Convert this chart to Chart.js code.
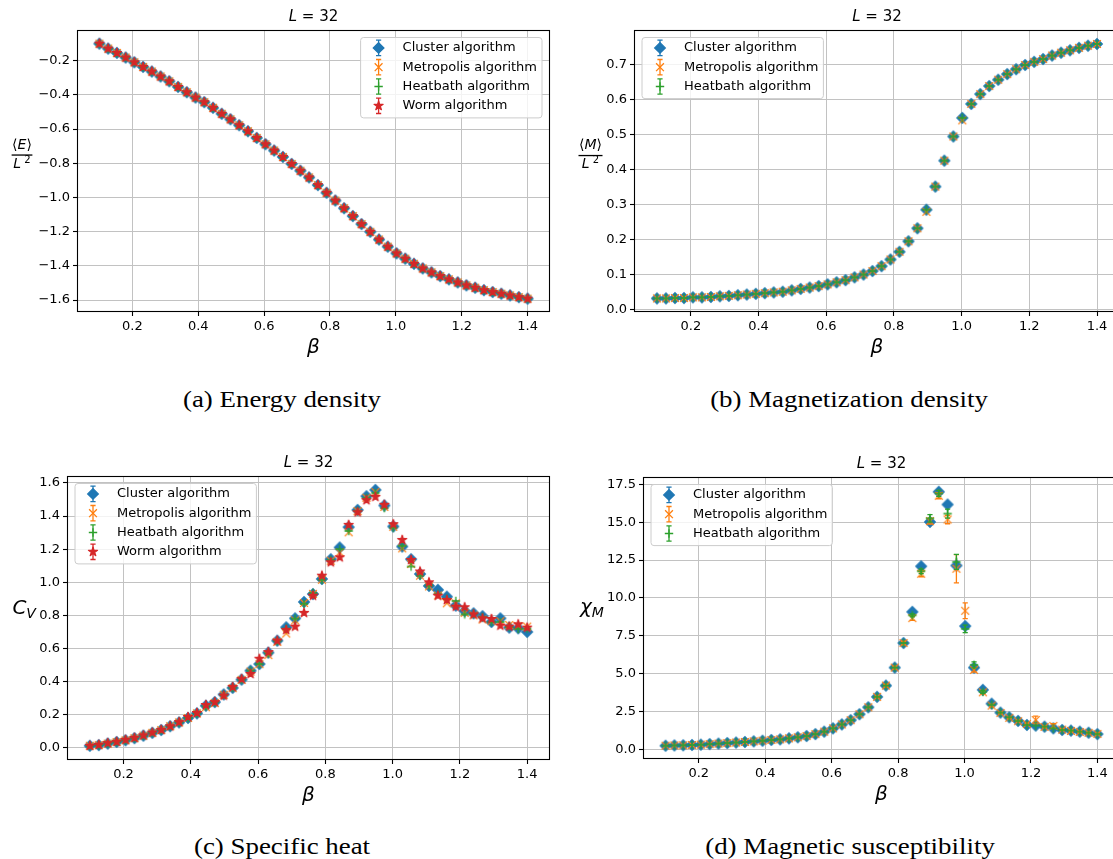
<!DOCTYPE html>
<html lang="en">
<head>
<meta charset="utf-8">
<title>XY model, L = 32</title>
<script src="https://cdn.jsdelivr.net/npm/chart.js@4.4.1/dist/chart.umd.min.js"></script>
<style>
    html, body { margin: 0; padding: 0; background: #fff; width: 1113px; height: 859px; overflow: hidden; }
    .panel { position: absolute; }
    .caption {
        position: absolute;
        font-family: "Liberation Serif", "DejaVu Serif", serif;
        font-size: 24px;
        color: #000;
        white-space: nowrap;
        transform: translate(-50%, -50%) scaleX(1.12);
    }
</style>
</head>
<body>
<canvas id="energy-chart" class="panel" width="556" height="380" style="left:0;top:0"></canvas>
<canvas id="magnet-chart" class="panel" width="570" height="380" style="left:556px;top:0"></canvas>
<canvas id="heat-chart" class="panel" width="556" height="390" style="left:0;top:430px"></canvas>
<canvas id="chi-chart" class="panel" width="570" height="390" style="left:556px;top:430px"></canvas>
<div class="caption" style="left:282px;top:399px">(a) Energy density</div>
<div class="caption" style="left:849px;top:399px">(b) Magnetization density</div>
<div class="caption" style="left:282px;top:846px">(c) Specific heat</div>
<div class="caption" style="left:850px;top:846px">(d) Magnetic susceptibility</div>
<script>
// inverse temperatures, 50 points from 0.1 to 1.4
const beta = [
    0.1000, 0.1265, 0.1531, 0.1796, 0.2061, 0.2327, 0.2592, 0.2857, 0.3122, 0.3388,
    0.3653, 0.3918, 0.4184, 0.4449, 0.4714, 0.4980, 0.5245, 0.5510, 0.5776, 0.6041,
    0.6306, 0.6571, 0.6837, 0.7102, 0.7367, 0.7633, 0.7898, 0.8163, 0.8429, 0.8694,
    0.8959, 0.9224, 0.9490, 0.9755, 1.0020, 1.0286, 1.0551, 1.0816, 1.1082, 1.1347,
    1.1612, 1.1878, 1.2143, 1.2408, 1.2673, 1.2939, 1.3204, 1.3469, 1.3735, 1.4000
];

const betaTicks = [0.2, 0.4, 0.6, 0.8, 1.0, 1.2, 1.4];
const energyTicks = [-1.6, -1.4, -1.2, -1.0, -0.8, -0.6, -0.4, -0.2];
const magnetTicks = [0.0, 0.1, 0.2, 0.3, 0.4, 0.5, 0.6, 0.7];
const heatTicks = [0.0, 0.2, 0.4, 0.6, 0.8, 1.0, 1.2, 1.4, 1.6];
const chiTicks = [0.0, 2.5, 5.0, 7.5, 10.0, 12.5, 15.0, 17.5];

// <E>/L^2 -- the four algorithms agree within the marker size
const energyAll = [
    -0.101, -0.130, -0.155, -0.182, -0.210, -0.237, -0.264, -0.293, -0.321, -0.354,
    -0.385, -0.416, -0.443, -0.476, -0.511, -0.543, -0.578, -0.613, -0.652, -0.689,
    -0.726, -0.763, -0.804, -0.844, -0.883, -0.928, -0.973, -1.018, -1.063, -1.109,
    -1.156, -1.201, -1.246, -1.288, -1.327, -1.358, -1.388, -1.415, -1.438, -1.460,
    -1.479, -1.497, -1.514, -1.528, -1.542, -1.553, -1.563, -1.573, -1.583, -1.592
];

// <M>/L^2
const magnetCluster = [
    0.032, 0.032, 0.033, 0.033, 0.035, 0.035, 0.036, 0.038, 0.039, 0.041,
    0.043, 0.045, 0.047, 0.049, 0.051, 0.055, 0.059, 0.063, 0.067, 0.072,
    0.078, 0.084, 0.092, 0.100, 0.110, 0.124, 0.143, 0.165, 0.195, 0.232,
    0.285, 0.351, 0.425, 0.494, 0.547, 0.587, 0.615, 0.638, 0.656, 0.672,
    0.686, 0.698, 0.707, 0.715, 0.725, 0.733, 0.740, 0.747, 0.753, 0.758
];
const magnetMetropolis = [
    0.032, 0.032, 0.033, 0.033, 0.035, 0.035, 0.036, 0.038, 0.039, 0.041,
    0.043, 0.045, 0.047, 0.049, 0.051, 0.055, 0.059, 0.063, 0.067, 0.072,
    0.078, 0.084, 0.092, 0.100, 0.110, 0.124, 0.143, 0.165, 0.195, 0.232,
    0.279, 0.351, 0.425, 0.494, 0.540, 0.587, 0.615, 0.638, 0.656, 0.672,
    0.686, 0.698, 0.707, 0.715, 0.725, 0.733, 0.740, 0.747, 0.753, 0.758
];
const magnetHeatbath = magnetCluster;

// specific heat C_V
const heatCluster = [
    0.012, 0.016, 0.025, 0.035, 0.045, 0.058, 0.073, 0.090, 0.107, 0.130,
    0.153, 0.180, 0.208, 0.254, 0.276, 0.322, 0.362, 0.412, 0.466, 0.506,
    0.575, 0.647, 0.728, 0.782, 0.881, 0.929, 1.020, 1.139, 1.210, 1.333,
    1.437, 1.520, 1.558, 1.464, 1.337, 1.216, 1.139, 1.050, 0.978, 0.954,
    0.913, 0.859, 0.827, 0.812, 0.795, 0.760, 0.782, 0.726, 0.722, 0.700
];
const heatMetropolis = [
    0.012, 0.016, 0.025, 0.035, 0.045, 0.058, 0.073, 0.090, 0.107, 0.130,
    0.153, 0.180, 0.208, 0.245, 0.270, 0.320, 0.360, 0.410, 0.460, 0.505,
    0.560, 0.640, 0.690, 0.770, 0.875, 0.930, 1.015, 1.130, 1.180, 1.302,
    1.430, 1.510, 1.545, 1.455, 1.335, 1.205, 1.110, 1.040, 0.975, 0.920,
    0.873, 0.873, 0.815, 0.800, 0.775, 0.765, 0.765, 0.742, 0.735, 0.732
];
const heatHeatbath = [
    0.012, 0.016, 0.025, 0.035, 0.045, 0.058, 0.073, 0.090, 0.107, 0.130,
    0.153, 0.180, 0.208, 0.250, 0.275, 0.320, 0.362, 0.412, 0.466, 0.506,
    0.570, 0.645, 0.720, 0.780, 0.870, 0.935, 1.015, 1.135, 1.200, 1.310,
    1.430, 1.510, 1.540, 1.448, 1.330, 1.220, 1.095, 1.040, 0.980, 0.930,
    0.900, 0.887, 0.806, 0.810, 0.790, 0.760, 0.760, 0.730, 0.718, 0.720
];
const heatWorm = [
    0.012, 0.018, 0.028, 0.036, 0.048, 0.060, 0.075, 0.092, 0.108, 0.130,
    0.155, 0.186, 0.210, 0.258, 0.276, 0.315, 0.367, 0.415, 0.446, 0.538,
    0.578, 0.647, 0.712, 0.732, 0.815, 0.919, 1.040, 1.121, 1.151, 1.347,
    1.423, 1.496, 1.516, 1.468, 1.351, 1.256, 1.135, 1.065, 1.000, 0.919,
    0.893, 0.853, 0.849, 0.806, 0.782, 0.778, 0.738, 0.732, 0.746, 0.726
];

// magnetic susceptibility chi_M
const chiCluster = [
    0.24, 0.26, 0.27, 0.29, 0.31, 0.35, 0.38, 0.42, 0.45, 0.49,
    0.53, 0.57, 0.62, 0.66, 0.73, 0.80, 0.88, 1.01, 1.17, 1.39,
    1.65, 1.93, 2.32, 2.78, 3.47, 4.21, 5.40, 7.02, 9.08, 12.09,
    15.02, 17.01, 16.17, 12.14, 8.14, 5.40, 3.93, 3.02, 2.43, 2.12,
    1.88, 1.61, 1.57, 1.50, 1.39, 1.28, 1.24, 1.17, 1.10, 1.01
];
const chiMetropolis = [
    0.24, 0.26, 0.27, 0.29, 0.31, 0.35, 0.38, 0.42, 0.45, 0.49,
    0.53, 0.57, 0.62, 0.66, 0.73, 0.80, 0.88, 1.01, 1.17, 1.39,
    1.65, 1.93, 2.32, 2.78, 3.47, 4.21, 5.40, 7.02, 8.67, 11.60,
    15.07, 16.75, 15.18, 11.93, 9.15, 5.25, 3.77, 2.89, 2.40, 2.08,
    1.86, 1.68, 1.94, 1.48, 1.55, 1.30, 1.22, 1.15, 1.09, 1.02
];
const chiMetropolisErr = [
    0, 0, 0, 0, 0, 0, 0, 0, 0, 0,
    0, 0, 0, 0, 0, 0, 0, 0, 0, 0,
    0, 0, 0, 0, 0.05, 0.08, 0.10, 0.12, 0.15, 0.20,
    0.20, 0.20, 0.28, 0.93, 0.52, 0.15, 0.10, 0.08, 0.06, 0.05,
    0.05, 0.05, 0.25, 0.05, 0.15, 0.05, 0.05, 0.05, 0.05, 0.05
];
const chiHeatbath = [
    0.24, 0.26, 0.27, 0.29, 0.31, 0.35, 0.38, 0.42, 0.45, 0.49,
    0.53, 0.57, 0.62, 0.66, 0.73, 0.80, 0.88, 1.01, 1.17, 1.39,
    1.65, 1.93, 2.32, 2.78, 3.47, 4.21, 5.40, 7.02, 8.85, 11.76,
    15.25, 16.90, 15.57, 12.38, 7.96, 5.58, 3.80, 2.95, 2.43, 2.12,
    1.88, 1.61, 1.57, 1.50, 1.39, 1.28, 1.24, 1.17, 1.10, 1.01
];
const chiHeatbathErr = [
    0, 0, 0, 0, 0, 0, 0, 0, 0, 0,
    0, 0, 0, 0, 0, 0, 0, 0, 0, 0,
    0, 0, 0, 0, 0, 0, 0, 0, 0.10, 0.15,
    0.25, 0.20, 0.30, 0.50, 0.25, 0.20, 0.10, 0, 0, 0,
    0, 0, 0, 0, 0, 0, 0, 0, 0, 0
];

const FONT = '"DejaVu Sans", sans-serif';
const GRID = '#c2c2c2';

const algorithms = [
    { name: 'Cluster algorithm', color: '#1f77b4', marker: 'diamond' },
    { name: 'Metropolis algorithm', color: '#ff7f0e', marker: 'x' },
    { name: 'Heatbath algorithm', color: '#2ca02c', marker: 'plus' },
    { name: 'Worm algorithm', color: '#d62728', marker: 'star' }
];

function drawMarker(ctx, kind, color, x, y) {
    ctx.save();
    ctx.fillStyle = color;
    ctx.strokeStyle = color;
    ctx.lineWidth = 1.3;
    ctx.beginPath();
    if (kind === 'diamond') {
        const r = 5.3;
        ctx.moveTo(x, y - r);
        ctx.lineTo(x + r, y);
        ctx.lineTo(x, y + r);
        ctx.lineTo(x - r, y);
        ctx.closePath();
        ctx.fill();
        ctx.stroke();
    } else if (kind === 'x') {
        const r = 3.9;
        ctx.moveTo(x - r, y - r);
        ctx.lineTo(x + r, y + r);
        ctx.moveTo(x + r, y - r);
        ctx.lineTo(x - r, y + r);
        ctx.stroke();
    } else if (kind === 'plus') {
        const r = 4.2;
        ctx.moveTo(x - r, y);
        ctx.lineTo(x + r, y);
        ctx.moveTo(x, y - r);
        ctx.lineTo(x, y + r);
        ctx.stroke();
    } else if (kind === 'star') {
        const ro = 4.8, ri = ro * 0.382;
        for (let k = 0; k < 10; k++) {
            const r = k % 2 ? ri : ro;
            const a = -Math.PI / 2 + k * Math.PI / 5;
            if (k === 0) ctx.moveTo(x + r * Math.cos(a), y + r * Math.sin(a));
            else ctx.lineTo(x + r * Math.cos(a), y + r * Math.sin(a));
        }
        ctx.closePath();
        ctx.lineWidth = 1.2;
        ctx.lineJoin = 'round';
        ctx.fill();
        ctx.stroke();
    }
    ctx.restore();
}

function markerImage(kind, color) {
    const c = document.createElement('canvas');
    c.width = 16;
    c.height = 16;
    drawMarker(c.getContext('2d'), kind, color, 8, 8);
    return c;
}

// draws runs of text with their own font and baseline shift, left to right
function drawRuns(ctx, runs, x, y, align) {
    let total = 0;
    runs.forEach(r => { ctx.font = r.font; r.w = ctx.measureText(r.text).width; total += r.w; });
    let cx = align === 'center' ? x - total / 2 : x;
    ctx.textAlign = 'left';
    runs.forEach(r => {
        ctx.font = r.font;
        ctx.fillText(r.text, cx, y + (r.dy || 0));
        cx += r.w;
    });
    return total;
}

function roundedBox(ctx, x, y, w, h, r) {
    ctx.beginPath();
    ctx.moveTo(x + r, y);
    ctx.lineTo(x + w - r, y);
    ctx.arcTo(x + w, y, x + w, y + r, r);
    ctx.lineTo(x + w, y + h - r);
    ctx.arcTo(x + w, y + h, x + w - r, y + h, r);
    ctx.lineTo(x + r, y + h);
    ctx.arcTo(x, y + h, x, y + h - r, r);
    ctx.lineTo(x, y + r);
    ctx.arcTo(x, y, x + r, y, r);
    ctx.closePath();
}

// vertical error bars with caps, drawn just before each dataset's markers
const errorBars = {
    id: 'errorBars',
    beforeDatasetDraw(chart, args) {
        const ds = chart.data.datasets[args.index];
        if (!ds.errors) return;
        const ys = chart.scales.y;
        const ctx = chart.ctx;
        ctx.save();
        ctx.strokeStyle = ds.color;
        ctx.lineWidth = 1.3;
        args.meta.data.forEach((pt, i) => {
            const e = ds.errors[i];
            if (!e) return;
            const v = ds.data[i].y;
            const top = ys.getPixelForValue(v + e);
            const bot = ys.getPixelForValue(v - e);
            ctx.beginPath();
            ctx.moveTo(pt.x, top);
            ctx.lineTo(pt.x, bot);
            ctx.moveTo(pt.x - 2.6, top);
            ctx.lineTo(pt.x + 2.6, top);
            ctx.moveTo(pt.x - 2.6, bot);
            ctx.lineTo(pt.x + 2.6, bot);
            ctx.stroke();
        });
        ctx.restore();
    }
};

// frame, title, axis labels and the boxed legend
const decor = {
    id: 'decor',
    afterDatasetsDraw(chart) {
        const { ctx, chartArea: a } = chart;
        ctx.save();
        ctx.strokeStyle = '#000';
        ctx.lineWidth = 1.1;
        ctx.strokeRect(a.left - 0.5, a.top - 0.5, a.right - a.left + 1, a.bottom - a.top + 1);
        ctx.restore();
    },
    afterDraw(chart, args, opts) {
        const { ctx, chartArea: a } = chart;
        const midX = (a.left + a.right) / 2;
        const midY = (a.top + a.bottom) / 2;
        ctx.save();
        ctx.fillStyle = '#000';
        ctx.textBaseline = 'middle';

        drawRuns(ctx, [
            { text: 'L', font: `italic 15px ${FONT}` },
            { text: ' = 32', font: `15px ${FONT}` }
        ], midX, a.top - 14, 'center');

        ctx.font = `italic 20px ${FONT}`;
        ctx.textAlign = 'center';
        ctx.fillText('β', midX, a.bottom + 37);

        const yl = opts.ylabel;
        if (yl.frac) {
            const cx = a.left + yl.dx;
            const by = midY + yl.dy;
            const w = drawRuns(ctx, [
                { text: '⟨', font: `14px ${FONT}` },
                { text: yl.frac, font: `italic 14px ${FONT}` },
                { text: '⟩', font: `14px ${FONT}` }
            ], cx, by - 10, 'center');
            drawRuns(ctx, [
                { text: 'L', font: `italic 14px ${FONT}` },
                { text: ' 2', font: `10px ${FONT}`, dy: -4 }
            ], cx, by + 9, 'center');
            ctx.fillRect(cx - w / 2 - 0.5, by - 0.6, w + 1, 1.3);
        } else {
            ctx.textBaseline = 'alphabetic';
            drawRuns(ctx, [
                { text: yl.main, font: `italic 20px ${FONT}` },
                { text: yl.sub, font: `italic 14px ${FONT}`, dy: 4 }
            ], a.left + yl.dx, midY + yl.dy, 'left');
        }

        // legend
        const items = chart.data.datasets;
        ctx.font = `13px ${FONT}`;
        const textW = Math.max(...items.map(d => ctx.measureText(d.label).width));
        const rowH = 19.3;
        const w = 47 + textW;
        const h = items.length * rowH + 3.2;
        const x0 = opts.legend === 'right' ? a.right - 7 - w : a.left + 7;
        const y0 = a.top + 6.5;
        roundedBox(ctx, x0, y0, w, h, 3);
        ctx.fillStyle = 'rgba(255,255,255,0.8)';
        ctx.fill();
        ctx.strokeStyle = '#cccccc';
        ctx.lineWidth = 1;
        ctx.stroke();
        items.forEach((d, k) => {
            const cy = y0 + 10.4 + k * rowH;
            const mx = x0 + 18;
            ctx.strokeStyle = d.color;
            ctx.lineWidth = 1.3;
            ctx.beginPath();
            ctx.moveTo(mx, cy - 7.7);
            ctx.lineTo(mx, cy + 7.7);
            ctx.moveTo(mx - 2.6, cy - 7.7);
            ctx.lineTo(mx + 2.6, cy - 7.7);
            ctx.moveTo(mx - 2.6, cy + 7.7);
            ctx.lineTo(mx + 2.6, cy + 7.7);
            ctx.stroke();
            drawMarker(ctx, d.marker, d.color, mx, cy);
            ctx.fillStyle = '#000';
            ctx.font = `13px ${FONT}`;
            ctx.textAlign = 'left';
            ctx.textBaseline = 'middle';
            ctx.fillText(d.label, x0 + 42, cy);
        });
        ctx.restore();
    }
};

function fmt(v) {
    return v.toFixed(1).replace('-', '\u2212');
}

function makeDatasets(seriesList, errList) {
    return seriesList.map((values, i) => ({
        label: algorithms[i].name,
        color: algorithms[i].color,
        marker: algorithms[i].marker,
        data: beta.map((b, k) => ({ x: b, y: values[k] })),
        errors: errList ? errList[i] : null,
        pointStyle: markerImage(algorithms[i].marker, algorithms[i].color),
        pointRadius: 6,
        showLine: false,
        order: seriesList.length - i
    }));
}

function drawPanel(canvasId, datasets, cfg) {
    const canvas = document.getElementById(canvasId);
    const W = canvas.width, H = canvas.height;
    const [left, top, right, bottom] = cfg.area;
    const tickFont = { family: FONT, size: 13 };
    new Chart(canvas, {
        type: 'scatter',
        data: { datasets: datasets },
        options: {
            responsive: false,
            animation: false,
            events: [],
            layout: { padding: { left: 0, top: top, right: W - right, bottom: 0 } },
            plugins: {
                legend: { display: false },
                tooltip: { enabled: false },
                decor: { ylabel: cfg.ylabel, legend: cfg.legend }
            },
            scales: {
                x: {
                    type: 'linear',
                    min: 0.035,
                    max: 1.465,
                    afterBuildTicks: s => { s.ticks = betaTicks.map(v => ({ value: v })); },
                    afterFit: s => { s.height = H - bottom; },
                    border: { display: false },
                    grid: { color: GRID, lineWidth: 1, drawTicks: true, tickLength: 5, tickColor: '#000', tickWidth: 1.1 },
                    ticks: { font: tickFont, color: '#000', padding: 3, autoSkip: false, maxRotation: 0, callback: v => fmt(v) }
                },
                y: {
                    type: 'linear',
                    min: cfg.yMin,
                    max: cfg.yMax,
                    afterBuildTicks: s => { s.ticks = cfg.yTicks.map(v => ({ value: v })); },
                    afterFit: s => { s.width = left; },
                    border: { display: false },
                    grid: { color: GRID, lineWidth: 1, drawTicks: true, tickLength: 5, tickColor: '#000', tickWidth: 1.1 },
                    ticks: { font: tickFont, color: '#000', padding: 3, autoSkip: false, callback: v => fmt(v) }
                }
            }
        },
        plugins: [errorBars, decor]
    });
}

drawPanel('energy-chart',
    makeDatasets([energyAll, energyAll, energyAll, energyAll]),
    { area: [78, 31, 552, 311], yMin: -1.664, yMax: -0.027, yTicks: energyTicks,
      legend: 'right', ylabel: { frac: 'E', dx: -56, dy: -16 } });

drawPanel('magnet-chart',
    makeDatasets([magnetCluster, magnetMetropolis, magnetHeatbath]),
    { area: [79, 31, 565, 311], yMin: -0.004, yMax: 0.795, yTicks: magnetTicks,
      legend: 'left', ylabel: { frac: 'M', dx: -44.5, dy: -15.5 } });

drawPanel('heat-chart',
    makeDatasets([heatCluster, heatMetropolis, heatHeatbath, heatWorm]),
    { area: [68, 47, 552, 329], yMin: -0.068, yMax: 1.636, yTicks: heatTicks,
      legend: 'left', ylabel: { main: 'C', sub: 'V', dx: -55.6, dy: -4 } });

drawPanel('chi-chart',
    makeDatasets([chiCluster, chiMetropolis, chiHeatbath], [null, chiMetropolisErr, chiHeatbathErr]),
    { area: [88, 48, 565, 328], yMin: -0.57, yMax: 17.92, yTicks: chiTicks,
      legend: 'left', ylabel: { main: 'χ', sub: 'M', dx: -64, dy: -5 } });
</script>
</body>
</html>
